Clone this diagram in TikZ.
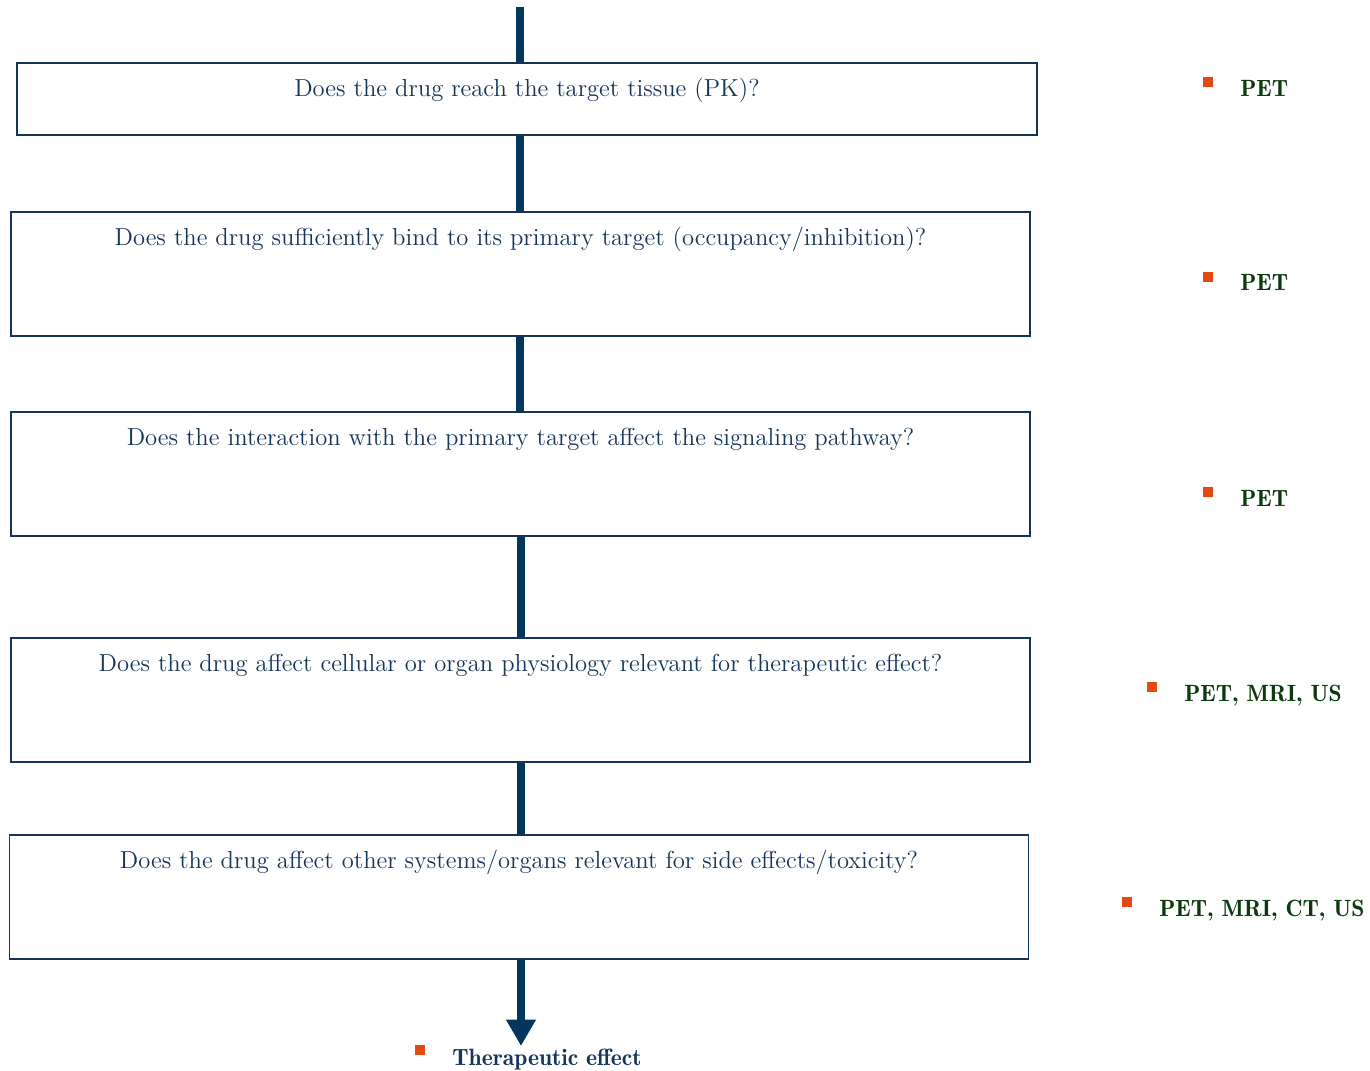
\documentclass[tikz,border=0pt]{standalone}
\usetikzlibrary{arrows.meta,calc}
\definecolor{navy}{RGB}{20,52,90}
\definecolor{flowline}{RGB}{3,54,92}
\definecolor{sqorange}{RGB}{226,74,16}
\definecolor{modgreen}{RGB}{12,58,14}
\tikzset{
  qbox/.style={draw=navy,line width=0.9pt,inner sep=0pt,minimum width=20.38cm,minimum height=2.48cm},
  qtext/.style={anchor=base,text=navy,font=\fontsize{14}{16}\selectfont,inner sep=0pt},
  flow/.style={draw=flowline,line width=4.5pt},
  sq/.style={fill=sqorange,inner sep=0pt,minimum size=0.2cm},
  modality/.style={anchor=base west,text=modgreen,font=\fontseries{b}\fontsize{13.4}{16}\selectfont,inner sep=0pt},
}

\begin{document}
\begin{tikzpicture}[x=0.02cm,y=-0.02cm]
  \useasboundingbox (0,0) rectangle (1370,1071);
  % question boxes
  \node[qbox,minimum width=20.4cm,minimum height=1.44cm] (b1) at (527,99) {};
  \node[qbox] (b2) at (520.5,274) {};
  \node[qbox] (b3) at (520.5,474) {};
  \node[qbox] (b4) at (520.5,700) {};
  \node[qbox] (b5) at (519,897) {};
  \node[qtext] (q1) at ($(b1.north)+(0,34)$) {Does the drug reach the target tissue (PK)?};
  \node[qtext] (q2) at ($(b2.north)+(0,34)$) {Does the drug sufficiently bind to its primary target (occupancy/inhibition)?};
  \node[qtext] (q3) at ($(b3.north)+(0,34)$) {Does the interaction with the primary target affect the signaling pathway?};
  \node[qtext] (q4) at ($(b4.north)+(0,34)$) {Does the drug affect cellular or organ physiology relevant for therapeutic effect?};
  \node[qtext] (q5) at ($(b5.north)+(0,34)$) {Does the drug affect other systems/organs relevant for side effects/toxicity?};
  % the flow down the boxes
  \coordinate (top) at (520,7);
  \coordinate (end) at (521,1046);
  \draw[flow] (top) -- (top |- b1.north);
  \draw[flow] (top |- b1.south) -- (top |- b2.north);
  \draw[flow] (top |- b2.south) -- (top |- b3.north);
  \draw[flow] (end |- b3.south) -- (end |- b4.north);
  \draw[flow] (end |- b4.south) -- (end |- b5.north);
  \draw[flow,-{Triangle[width=16pt,length=15pt]}] (end |- b5.south) -- (end);
  % imaging modalities
  \node[sq] (s1) at (1208,82) {};
  \node[modality] (m1) at (1240,97) {PET};
  \node[sq] (s2) at (1208,277) {};
  \node[modality] (m2) at (1240,291) {PET};
  \node[sq] (s3) at (1208,492) {};
  \node[modality] (m3) at (1240,506) {PET};
  \node[sq] (s4) at (1152,687) {};
  \node[modality] (m4) at (1184,701) {PET, MRI, US};
  \node[sq] (s5) at (1127,902) {};
  \node[modality] (m5) at (1159,916) {PET, MRI, CT, US};
  \node[sq] (s6) at (420,1050) {};
  \node[modality,text=navy] (m6) at (452,1065) {Therapeutic effect};
\end{tikzpicture}
\end{document}
